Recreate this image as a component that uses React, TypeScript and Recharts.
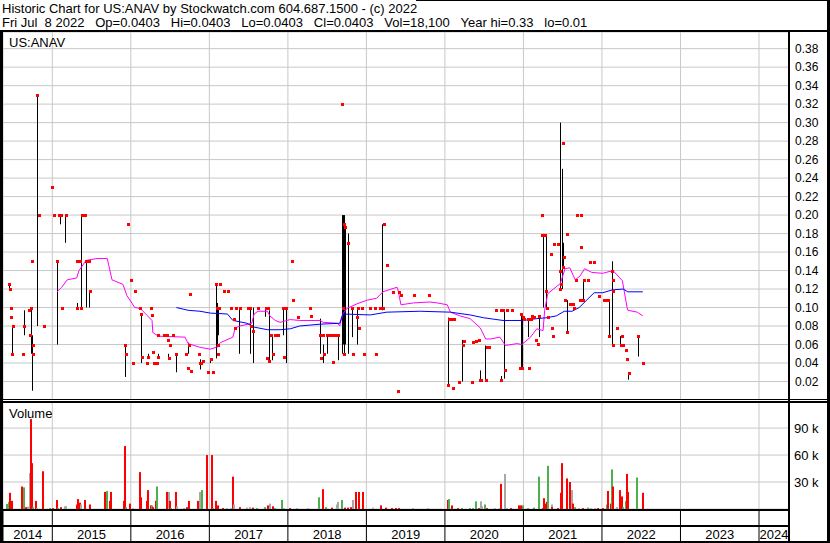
import React from 'react'
import { ComposedChart, Bar, Line, Scatter, XAxis, YAxis, CartesianGrid } from 'recharts'

// [decimal year, high, low, close]
type Ohlc = [number, number, number, number]
// [decimal year, volume in thousands, u = up, d = down, n = unchanged]
type Vol = [number, number, 'u' | 'd' | 'n']

const bars2014: Ohlc[] = [
  [2014.45, 0.125, 0.12, 0.125], [2014.46, 0.12, 0.12, 0.12], [2014.47, 0.10, 0.10, 0.10], [2014.48, 0.09, 0.09, 0.09],
  [2014.49, 0.08, 0.05, 0.05], [2014.50, 0.08, 0.08, 0.08], [2014.63, 0.05, 0.05, 0.05], [2014.64, 0.097, 0.07, 0.08],
  [2014.70, 0.097, 0.097, 0.097], [2014.72, 0.07, 0.07, 0.07], [2014.73, 0.10, 0.05, 0.10], [2014.74, 0.15, 0.15, 0.15],
  [2014.75, 0.07, 0.01, 0.06], [2014.76, 0.05, 0.05, 0.05], [2014.81, 0.33, 0.08, 0.33], [2014.83, 0.20, 0.20, 0.20],
  [2014.89, 0.08, 0.08, 0.08],
]
const bars2015: Ohlc[] = [
  [2015.00, 0.23, 0.23, 0.23], [2015.02, 0.20, 0.20, 0.20], [2015.06, 0.15, 0.06, 0.15], [2015.09, 0.20, 0.20, 0.20],
  [2015.11, 0.20, 0.19, 0.20], [2015.12, 0.10, 0.10, 0.10], [2015.17, 0.20, 0.17, 0.20], [2015.31, 0.15, 0.15, 0.15],
  [2015.32, 0.105, 0.10, 0.10], [2015.35, 0.15, 0.15, 0.15], [2015.37, 0.20, 0.10, 0.10], [2015.38, 0.20, 0.20, 0.20],
  [2015.42, 0.20, 0.20, 0.20], [2015.43, 0.15, 0.10, 0.15], [2015.47, 0.15, 0.15, 0.15], [2015.48, 0.118, 0.10, 0.118],
  [2015.93, 0.06, 0.025, 0.06], [2015.94, 0.05, 0.05, 0.05], [2015.96, 0.19, 0.19, 0.19],
]
const bars2016: Ohlc[] = [
  [2016.00, 0.13, 0.13, 0.13], [2016.03, 0.04, 0.04, 0.04], [2016.05, 0.118, 0.118, 0.118], [2016.12, 0.10, 0.10, 0.10],
  [2016.13, 0.093, 0.04, 0.093], [2016.14, 0.047, 0.047, 0.047], [2016.21, 0.04, 0.04, 0.04], [2016.22, 0.05, 0.047, 0.047],
  [2016.26, 0.10, 0.10, 0.10], [2016.27, 0.092, 0.092, 0.092], [2016.28, 0.052, 0.052, 0.052], [2016.29, 0.04, 0.04, 0.04],
  [2016.33, 0.04, 0.04, 0.04], [2016.34, 0.07, 0.07, 0.07], [2016.35, 0.05, 0.047, 0.047], [2016.42, 0.07, 0.07, 0.07],
  [2016.46, 0.07, 0.07, 0.07], [2016.47, 0.065, 0.065, 0.065], [2016.48, 0.05, 0.045, 0.045], [2016.50, 0.06, 0.06, 0.06],
  [2016.54, 0.07, 0.07, 0.07], [2016.58, 0.05, 0.03, 0.05], [2016.70, 0.05, 0.05, 0.05], [2016.73, 0.035, 0.035, 0.035],
  [2016.74, 0.062, 0.05, 0.06], [2016.75, 0.115, 0.115, 0.115], [2016.76, 0.031, 0.031, 0.031], [2016.87, 0.05, 0.05, 0.05],
  [2016.88, 0.04, 0.04, 0.04], [2016.89, 0.044, 0.033, 0.04], [2016.92, 0.042, 0.042, 0.042], [2016.98, 0.03, 0.03, 0.03],
]
const bars2017: Ohlc[] = [
  [2017.02, 0.045, 0.04, 0.044], [2017.05, 0.03, 0.03, 0.03], [2017.09, 0.125, 0.045, 0.125], [2017.10, 0.105, 0.057, 0.10],
  [2017.11, 0.06, 0.06, 0.06], [2017.115, 0.05, 0.05, 0.05], [2017.12, 0.10, 0.07, 0.10], [2017.14, 0.125, 0.125, 0.125],
  [2017.19, 0.118, 0.118, 0.118], [2017.24, 0.118, 0.118, 0.118], [2017.28, 0.10, 0.10, 0.10], [2017.31, 0.088, 0.088, 0.088],
  [2017.33, 0.078, 0.078, 0.078], [2017.34, 0.10, 0.10, 0.10], [2017.39, 0.10, 0.05, 0.10], [2017.49, 0.10, 0.10, 0.10],
  [2017.52, 0.10, 0.10, 0.10], [2017.53, 0.10, 0.05, 0.08], [2017.56, 0.10, 0.04, 0.075], [2017.62, 0.10, 0.10, 0.10],
  [2017.72, 0.10, 0.09, 0.10], [2017.74, 0.045, 0.045, 0.045], [2017.75, 0.10, 0.10, 0.10], [2017.76, 0.097, 0.042, 0.042],
  [2017.79, 0.07, 0.07, 0.07], [2017.81, 0.07, 0.043, 0.05], [2017.83, 0.07, 0.07, 0.07], [2017.87, 0.07, 0.07, 0.07],
  [2017.94, 0.10, 0.07, 0.10], [2017.95, 0.046, 0.046, 0.046], [2017.98, 0.10, 0.04, 0.10],
]
const bars2018: Ohlc[] = [
  [2018.05, 0.15, 0.15, 0.15], [2018.07, 0.108, 0.108, 0.108], [2018.13, 0.09, 0.09, 0.09], [2018.28, 0.10, 0.10, 0.10],
  [2018.30, 0.091, 0.091, 0.091], [2018.41, 0.088, 0.05, 0.07], [2018.42, 0.045, 0.045, 0.045], [2018.45, 0.07, 0.07, 0.07],
  [2018.46, 0.06, 0.04, 0.05], [2018.50, 0.07, 0.05, 0.07], [2018.53, 0.07, 0.07, 0.07], [2018.56, 0.07, 0.07, 0.07],
  [2018.58, 0.041, 0.041, 0.041], [2018.60, 0.07, 0.07, 0.07], [2018.64, 0.07, 0.043, 0.07], [2018.69, 0.32, 0.32, 0.32],
  [2018.70, 0.20, 0.05, 0.10], [2018.71, 0.20, 0.06, 0.19], [2018.72, 0.20, 0.05, 0.05], [2018.73, 0.19, 0.06, 0.187],
  [2018.77, 0.18, 0.05, 0.17], [2018.82, 0.10, 0.068, 0.10], [2018.83, 0.05, 0.05, 0.05], [2018.88, 0.09, 0.09, 0.09],
  [2018.89, 0.10, 0.06, 0.10], [2018.91, 0.078, 0.078, 0.078], [2018.94, 0.10, 0.10, 0.10], [2018.97, 0.05, 0.05, 0.05],
]
const bars2019: Ohlc[] = [
  [2019.05, 0.10, 0.10, 0.10], [2019.11, 0.10, 0.10, 0.10], [2019.12, 0.05, 0.05, 0.05], [2019.17, 0.10, 0.10, 0.10],
  [2019.21, 0.19, 0.097, 0.10], [2019.22, 0.19, 0.19, 0.19], [2019.26, 0.146, 0.146, 0.146], [2019.34, 0.117, 0.117, 0.117],
  [2019.40, 0.01, 0.01, 0.01], [2019.41, 0.117, 0.117, 0.117], [2019.44, 0.114, 0.114, 0.114], [2019.61, 0.114, 0.114, 0.114],
  [2019.80, 0.114, 0.114, 0.114],
]
const bars2020: Ohlc[] = [
  [2020.04, 0.089, 0.016, 0.016], [2020.05, 0.089, 0.06, 0.088], [2020.08, 0.088, 0.088, 0.088], [2020.10, 0.013, 0.013, 0.013],
  [2020.12, 0.088, 0.088, 0.088], [2020.18, 0.019, 0.019, 0.019], [2020.23, 0.065, 0.02, 0.06], [2020.24, 0.064, 0.064, 0.064],
  [2020.35, 0.02, 0.02, 0.02], [2020.36, 0.063, 0.063, 0.063], [2020.39, 0.064, 0.064, 0.064], [2020.43, 0.065, 0.065, 0.065],
  [2020.45, 0.032, 0.022, 0.022], [2020.46, 0.022, 0.022, 0.022], [2020.52, 0.059, 0.022, 0.022], [2020.54, 0.057, 0.057, 0.057],
  [2020.56, 0.057, 0.057, 0.057], [2020.65, 0.097, 0.097, 0.097], [2020.71, 0.097, 0.097, 0.097], [2020.72, 0.026, 0.022, 0.022],
  [2020.74, 0.097, 0.097, 0.097], [2020.76, 0.097, 0.023, 0.032], [2020.79, 0.097, 0.097, 0.097], [2020.85, 0.097, 0.097, 0.097],
  [2020.96, 0.035, 0.035, 0.035], [2020.97, 0.093, 0.035, 0.093], [2020.98, 0.093, 0.04, 0.035], [2020.99, 0.09, 0.035, 0.09],
]
const bars2021: Ohlc[] = [
  [2021.01, 0.088, 0.088, 0.088], [2021.06, 0.088, 0.068, 0.088], [2021.07, 0.035, 0.035, 0.035], [2021.09, 0.088, 0.088, 0.088],
  [2021.11, 0.091, 0.091, 0.091], [2021.14, 0.09, 0.09, 0.09], [2021.16, 0.065, 0.065, 0.065], [2021.19, 0.061, 0.061, 0.061],
  [2021.20, 0.091, 0.068, 0.091], [2021.23, 0.20, 0.20, 0.20], [2021.24, 0.178, 0.178, 0.178], [2021.25, 0.178, 0.10, 0.178],
  [2021.27, 0.178, 0.178, 0.178], [2021.29, 0.178, 0.10, 0.118], [2021.30, 0.10, 0.10, 0.10], [2021.31, 0.09, 0.09, 0.09],
  [2021.35, 0.158, 0.158, 0.158], [2021.37, 0.078, 0.078, 0.078], [2021.38, 0.069, 0.069, 0.069], [2021.39, 0.169, 0.169, 0.169],
  [2021.44, 0.169, 0.169, 0.169], [2021.46, 0.14, 0.14, 0.14], [2021.47, 0.30, 0.12, 0.12], [2021.48, 0.125, 0.125, 0.125],
  [2021.50, 0.25, 0.12, 0.144], [2021.51, 0.278, 0.278, 0.278], [2021.515, 0.17, 0.145, 0.155], [2021.53, 0.108, 0.108, 0.108],
  [2021.55, 0.179, 0.179, 0.179], [2021.56, 0.108, 0.074, 0.074], [2021.59, 0.104, 0.104, 0.104], [2021.63, 0.104, 0.104, 0.104],
  [2021.64, 0.10, 0.10, 0.10], [2021.67, 0.13, 0.13, 0.13], [2021.68, 0.20, 0.20, 0.20], [2021.72, 0.108, 0.108, 0.108],
  [2021.73, 0.20, 0.20, 0.20], [2021.735, 0.166, 0.166, 0.166], [2021.76, 0.13, 0.108, 0.108], [2021.77, 0.13, 0.13, 0.13],
  [2021.82, 0.13, 0.13, 0.13], [2021.85, 0.149, 0.149, 0.149], [2021.90, 0.149, 0.149, 0.149], [2021.96, 0.113, 0.113, 0.113],
]
const bars2022: Ohlc[] = [
  [2022.02, 0.108, 0.108, 0.108], [2022.05, 0.108, 0.108, 0.108], [2022.08, 0.108, 0.108, 0.108], [2022.09, 0.108, 0.069, 0.069],
  [2022.13, 0.15, 0.10, 0.14], [2022.135, 0.13, 0.13, 0.13], [2022.14, 0.108, 0.059, 0.059], [2022.145, 0.118, 0.118, 0.118],
  [2022.19, 0.078, 0.078, 0.078], [2022.24, 0.069, 0.059, 0.059], [2022.26, 0.069, 0.069, 0.069], [2022.27, 0.059, 0.059, 0.059],
  [2022.31, 0.054, 0.054, 0.054], [2022.32, 0.044, 0.044, 0.044], [2022.34, 0.029, 0.022, 0.029], [2022.35, 0.029, 0.029, 0.029],
  [2022.46, 0.069, 0.047, 0.069], [2022.52, 0.0403, 0.0403, 0.0403],
]

// moving averages, [decimal year, value]
const maShort: [number, number][] = [
  [2015.06, 0.117], [2015.12, 0.122], [2015.19, 0.130], [2015.31, 0.132], [2015.34, 0.140], [2015.43, 0.151],
  [2015.57, 0.153], [2015.70, 0.153], [2015.76, 0.130], [2015.90, 0.125], [2015.95, 0.113], [2016.02, 0.104],
  [2016.05, 0.100], [2016.12, 0.099], [2016.27, 0.086], [2016.28, 0.073], [2016.35, 0.069], [2016.69, 0.068],
  [2016.73, 0.061], [2016.88, 0.057], [2017.01, 0.055], [2017.09, 0.057], [2017.14, 0.062], [2017.30, 0.068],
  [2017.33, 0.078], [2017.39, 0.080], [2017.54, 0.083], [2017.57, 0.093], [2017.62, 0.096], [2017.74, 0.096],
  [2017.77, 0.091], [2017.84, 0.086], [2017.90, 0.084], [2018.03, 0.087], [2018.15, 0.086], [2018.41, 0.086],
  [2018.45, 0.084], [2018.63, 0.083], [2018.66, 0.080], [2018.70, 0.093], [2018.75, 0.099], [2018.88, 0.104],
  [2019.01, 0.108], [2019.13, 0.110], [2019.21, 0.117], [2019.39, 0.122], [2019.40, 0.120], [2019.44, 0.103],
  [2019.60, 0.105], [2019.81, 0.106], [2019.90, 0.105], [2020.03, 0.103], [2020.07, 0.095], [2020.19, 0.091],
  [2020.32, 0.088], [2020.45, 0.078], [2020.52, 0.066], [2020.58, 0.066], [2020.70, 0.068], [2020.77, 0.059],
  [2020.92, 0.061], [2020.98, 0.060], [2021.09, 0.068], [2021.17, 0.077], [2021.25, 0.075], [2021.27, 0.097],
  [2021.31, 0.115], [2021.47, 0.126], [2021.53, 0.142], [2021.59, 0.143], [2021.66, 0.130], [2021.72, 0.134],
  [2021.78, 0.142], [2021.87, 0.138], [2022.01, 0.137], [2022.14, 0.140], [2022.26, 0.129], [2022.32, 0.100],
  [2022.33, 0.097], [2022.45, 0.095], [2022.52, 0.091],
]
const maLong: [number, number][] = [
  [2016.58, 0.100], [2016.73, 0.097], [2016.88, 0.096], [2017.01, 0.094], [2017.23, 0.093], [2017.30, 0.086],
  [2017.48, 0.083], [2017.56, 0.079], [2017.74, 0.076], [2017.90, 0.076], [2018.03, 0.077], [2018.15, 0.080],
  [2018.28, 0.081], [2018.41, 0.082], [2018.66, 0.083], [2018.70, 0.093], [2019.05, 0.092], [2019.26, 0.095],
  [2019.68, 0.096], [2020.07, 0.095], [2020.32, 0.092], [2020.49, 0.089], [2020.74, 0.086], [2021.00, 0.086],
  [2021.17, 0.088], [2021.30, 0.089], [2021.42, 0.091], [2021.52, 0.096], [2021.62, 0.096], [2021.71, 0.100],
  [2021.90, 0.116], [2022.01, 0.116], [2022.13, 0.119], [2022.27, 0.120], [2022.33, 0.117], [2022.52, 0.117],
]

const vol2014: Vol[] = [
  [2014.42, 5.6, 'u'], [2014.45, 8, 'u'], [2014.46, 18, 'd'], [2014.48, 8, 'd'], [2014.49, 9, 'd'], [2014.61, 25, 'd'],
  [2014.64, 24, 'u'], [2014.67, 2, 'd'], [2014.69, 2.5, 'n'], [2014.71, 40, 'n'], [2014.73, 100, 'd'], [2014.74, 51, 'd'],
  [2014.76, 2, 'u'], [2014.79, 9, 'd'], [2014.80, 1, 'n'], [2014.88, 42, 'd'], [2014.97, 1, 'u'],
]
const vol2015: Vol[] = [
  [2015.01, 1, 'd'], [2015.06, 10, 'd'], [2015.07, 1, 'u'], [2015.11, 2, 'd'], [2015.16, 3, 'n'], [2015.18, 3, 'n'],
  [2015.31, 5, 'd'], [2015.33, 11, 'd'], [2015.35, 7, 'd'], [2015.37, 5, 'n'], [2015.42, 10, 'd'], [2015.48, 5, 'd'],
  [2015.67, 19, 'd'], [2015.70, 20, 'u'], [2015.74, 9, 'd'], [2015.75, 19, 'd'], [2015.91, 9, 'd'], [2015.93, 70, 'd'],
  [2015.94, 2, 'u'], [2015.99, 6, 'd'],
]
const vol2016: Vol[] = [
  [2016.03, 1, 'n'], [2016.12, 41, 'd'], [2016.13, 13, 'd'], [2016.21, 9, 'd'], [2016.22, 21, 'd'], [2016.26, 4, 'd'],
  [2016.27, 4, 'u'], [2016.28, 2, 'd'], [2016.32, 9, 'd'], [2016.34, 25, 'u'], [2016.46, 19, 'd'], [2016.49, 19, 'n'],
  [2016.50, 9, 'd'], [2016.51, 1, 'u'], [2016.58, 19, 'd'], [2016.59, 3, 'n'], [2016.68, 1, 'n'], [2016.72, 2, 'd'],
  [2016.74, 9, 'd'], [2016.86, 9, 'd'], [2016.88, 19, 'n'], [2016.91, 21, 'u'], [2016.97, 60, 'd'],
]
const vol2017: Vol[] = [
  [2017.04, 60, 'd'], [2017.05, 1, 'u'], [2017.09, 9, 'd'], [2017.11, 4, 'd'], [2017.18, 1, 'd'], [2017.23, 1, 'n'],
  [2017.27, 1, 'n'], [2017.30, 36, 'd'], [2017.31, 5, 'n'], [2017.39, 2, 'd'], [2017.48, 1.5, 'n'], [2017.52, 2, 'n'],
  [2017.56, 1.5, 'd'], [2017.61, 1, 'u'], [2017.71, 2, 'u'], [2017.75, 4, 'd'], [2017.77, 6, 'n'], [2017.81, 3, 'd'],
  [2017.84, 1, 'u'], [2017.93, 10, 'u'], [2017.95, 1, 'n'],
]
const vol2018: Vol[] = [
  [2018.03, 1, 'd'], [2018.12, 1, 'n'], [2018.26, 1, 'n'], [2018.40, 13, 'u'], [2018.45, 22, 'd'], [2018.48, 2, 'u'],
  [2018.56, 1.5, 'd'], [2018.63, 5, 'n'], [2018.64, 8, 'n'], [2018.69, 10, 'u'], [2018.73, 1.5, 'd'], [2018.76, 1.5, 'd'],
  [2018.80, 2, 'd'], [2018.83, 10, 'n'], [2018.87, 19, 'd'], [2018.90, 19, 'd'], [2018.96, 19, 'd'],
]
const vol2019: Vol[] = [
  [2019.09, 1.5, 'n'], [2019.19, 4, 'd'], [2019.25, 1.5, 'd'], [2019.33, 1, 'd'], [2019.38, 1, 'd'], [2019.42, 1, 'd'],
  [2019.60, 1, 'n'], [2019.79, 1, 'n'],
]
const vol2020: Vol[] = [
  [2020.04, 10, 'd'], [2020.05, 11, 'u'], [2020.09, 4, 'd'], [2020.17, 1, 'd'], [2020.22, 1, 'u'], [2020.32, 1, 'u'],
  [2020.36, 1, 'u'], [2020.40, 8.5, 'u'], [2020.43, 1, 'd'], [2020.46, 8.5, 'n'], [2020.47, 3, 'n'], [2020.51, 5, 'u'],
  [2020.54, 1, 'd'], [2020.64, 1, 'n'], [2020.70, 1, 'n'], [2020.72, 28, 'd'], [2020.76, 39, 'n'], [2020.79, 1, 'n'],
  [2020.84, 1, 'd'], [2020.94, 4, 'd'], [2020.97, 4, 'd'], [2020.99, 4, 'u'],
]
const vol2021: Vol[] = [
  [2021.06, 1, 'u'], [2021.13, 1.5, 'u'], [2021.20, 36, 'u'], [2021.25, 1, 'd'], [2021.26, 12, 'd'], [2021.27, 6, 'd'],
  [2021.30, 8, 'd'], [2021.31, 48, 'u'], [2021.36, 5, 'n'], [2021.37, 2, 'd'], [2021.44, 1, 'd'], [2021.48, 18, 'd'],
  [2021.49, 51, 'd'], [2021.55, 34, 'd'], [2021.59, 30, 'd'], [2021.62, 21, 'n'], [2021.63, 6, 'd'], [2021.66, 2, 'u'],
  [2021.71, 1, 'n'], [2021.76, 1, 'd'], [2021.82, 1.5, 'u'], [2021.86, 1, 'n'], [2021.91, 1, 'n'], [2021.95, 1, 'd'],
]
const vol2022: Vol[] = [
  [2022.01, 1, 'd'], [2022.06, 5, 'u'], [2022.08, 20, 'd'], [2022.11, 6, 'd'], [2022.13, 44, 'u'], [2022.14, 25, 'd'],
  [2022.19, 2, 'n'], [2022.23, 21, 'd'], [2022.26, 14, 'd'], [2022.27, 2, 'u'], [2022.31, 9, 'u'], [2022.32, 39, 'd'],
  [2022.33, 19, 'd'], [2022.45, 35, 'u'], [2022.52, 18, 'd'],
]

const priceTicks = [0.02, 0.04, 0.06, 0.08, 0.10, 0.12, 0.14, 0.16, 0.18, 0.20, 0.22, 0.24, 0.26, 0.28, 0.30, 0.32, 0.34, 0.36, 0.38]
const volTicks = [30, 60, 90]
const yearLabels = [2014, 2015, 2016, 2017, 2018, 2019, 2020, 2021, 2022, 2023, 2024]
const yearBounds = yearLabels.slice(1)
const xDomain: [number, number] = [2014.372, 2024.382]

const headerLine1 = 'Historic Chart for US:ANAV by Stockwatch.com 604.687.1500 - (c) 2022'
const headerLine2 = 'Fri Jul  8 2022   Op=0.0403   Hi=0.0403   Lo=0.0403   Cl=0.0403   Vol=18,100   Year hi=0.33   lo=0.01'

const priceData = [bars2014, bars2015, bars2016, bars2017, bars2018, bars2019, bars2020, bars2021, bars2022]
  .flat()
  .map(([t, hi, lo, cl]) => ({ t, hi, lo, cl }))
  .sort((a, b) => a.t - b.t)
const shortData = maShort.map(([t, v]) => ({ t, v }))
const longData = maLong.map(([t, v]) => ({ t, v }))
const volData = [vol2014, vol2015, vol2016, vol2017, vol2018, vol2019, vol2020, vol2021, vol2022]
  .flat()
  .map(([t, v, dir]) => ({ t, v, dir }))
// year label sits in the middle of the visible part of each year
const yearData = yearLabels.map(y => ({
  t: (Math.max(y, xDomain[0]) + Math.min(y + 1, xDomain[1])) / 2,
  y: 0.5,
  label: String(y),
}))

const volColor = { u: '#4CB04C', d: '#FF0000', n: '#A8A8A8' }
const FONT = "'Liberation Sans', Arial, sans-serif"
const GRID = '#C8C8C8'

const HiLo = (p: any) => {
  const h = Math.abs(p.height || 0)
  if (!h) return <g />
  const y = Math.min(p.y, p.y + p.height)
  return <rect x={Math.floor(p.x + p.width / 2)} y={y} width={1} height={Math.max(1, h)} fill="#000" />
}
const CloseDot = (p: any) => (
  <rect x={Math.round(p.cx) - 1} y={Math.round(p.cy) - 1} width={3} height={3} fill="#FF0000" />
)
const VolBar = (p: any) => {
  if (!p.height) return <g />
  return <rect x={Math.round(p.x + p.width / 2) - 1} y={p.y} width={2} height={p.height} fill={volColor[p.payload.dir as 'u']} />
}
const YearLabel = (p: any) => (
  <text x={p.cx} y={p.cy} dy="0.355em" fontSize={13} fill="#000" fontFamily={FONT} textAnchor="middle">
    {p.payload.label}
  </text>
)
const PriceTick = (p: any) => (
  <text x={p.x} y={p.y} dy="0.355em" fontSize={12} fill="#000" fontFamily={FONT} textAnchor="start">
    {Number(p.payload.value).toFixed(2)}
  </text>
)
const VolTick = (p: any) => (
  <text x={p.x} y={p.y} dy="0.355em" fontSize={13} fill="#000" fontFamily={FONT} textAnchor="start">
    {`${p.payload.value} k`}
  </text>
)
const NoTick = () => <g />

const line = (s: React.CSSProperties) => <div style={{ position: 'absolute', background: '#000', ...s }} />
const layer: React.CSSProperties = { position: 'absolute', left: 0, top: 0 }
const yearAxis = (
  <XAxis dataKey="t" type="number" domain={xDomain} allowDataOverflow ticks={yearBounds} interval={0}
    height={0} tick={<NoTick />} axisLine={false} tickLine={false} />
)

export default function App() {
  return (
    <div style={{ position: 'absolute', left: 0, top: 0, width: 830, height: 543, background: '#fff', fontFamily: FONT, overflow: 'hidden' }}>
      <div style={{ position: 'absolute', left: 2, top: 1.5, fontSize: 13, lineHeight: '14px', whiteSpace: 'pre' }}>{headerLine1}</div>
      <div style={{ position: 'absolute', left: 2, top: 15.5, fontSize: 13, lineHeight: '14px', whiteSpace: 'pre' }}>
        {headerLine2.replace(/ /g, '\u00a0')}
      </div>

      <div style={layer}>
        <ComposedChart width={830} height={400} data={priceData} margin={{ top: 32, right: 0, bottom: 0, left: 3 }}>
          <CartesianGrid stroke={GRID} />
          {yearAxis}
          <YAxis orientation="right" width={41} type="number" domain={[0, 0.398]} allowDataOverflow ticks={priceTicks} interval={0}
            axisLine={false} tickLine={false} tickSize={0} tickMargin={6} tick={<PriceTick />} />
          <Bar dataKey={(d: any) => [d.lo, d.hi]} barSize={1} shape={<HiLo />} isAnimationActive={false} />
          <Line data={shortData} dataKey="v" stroke="#FF00FF" strokeWidth={1} dot={false} type="linear" isAnimationActive={false} />
          <Line data={longData} dataKey="v" stroke="#0000FF" strokeWidth={1} dot={false} type="linear" isAnimationActive={false} />
          <Scatter data={priceData} dataKey="cl" shape={<CloseDot />} isAnimationActive={false} />
        </ComposedChart>
      </div>

      <div style={layer}>
        <ComposedChart width={830} height={509} data={volData} margin={{ top: 402, right: 0, bottom: 0, left: 3 }}>
          <CartesianGrid stroke={GRID} />
          {yearAxis}
          <YAxis orientation="right" width={41} type="number" domain={[0, 119]} allowDataOverflow ticks={volTicks} interval={0}
            axisLine={false} tickLine={false} tickSize={0} tickMargin={5} tick={<VolTick />} />
          <Bar dataKey="v" barSize={2} shape={<VolBar />} isAnimationActive={false} />
        </ComposedChart>
      </div>

      <div style={layer}>
        <ComposedChart width={830} height={542} data={yearData} margin={{ top: 510, right: 41, bottom: 0, left: 3 }}>
          <CartesianGrid stroke="#000" horizontal={false} />
          {yearAxis}
          <YAxis hide type="number" domain={[0, 2]} allowDataOverflow />
          <Scatter data={yearData} dataKey="y" shape={<YearLabel />} isAnimationActive={false} />
        </ComposedChart>
      </div>

      <div style={{ position: 'absolute', left: 9, top: 35.5, fontSize: 13, lineHeight: '14px' }}>US:ANAV</div>
      <div style={{ position: 'absolute', left: 9, top: 406.5, fontSize: 13, lineHeight: '14px' }}>Volume</div>

      {line({ left: 416, top: 0, width: 414, height: 1 })}
      {line({ left: 0, top: 30, width: 830, height: 2 })}
      {line({ left: 0, top: 30, width: 3, height: 513 })}
      {line({ left: 827, top: 0, width: 3, height: 543 })}
      {line({ left: 788, top: 30, width: 2, height: 513 })}
      {line({ left: 0, top: 399, width: 830, height: 1 })}
      {line({ left: 0, top: 401, width: 830, height: 2 })}
      {line({ left: 0, top: 509, width: 790, height: 2 })}
      {line({ left: 0, top: 525, width: 790, height: 2 })}
      {line({ left: 0, top: 541, width: 830, height: 2 })}
    </div>
  )
}
